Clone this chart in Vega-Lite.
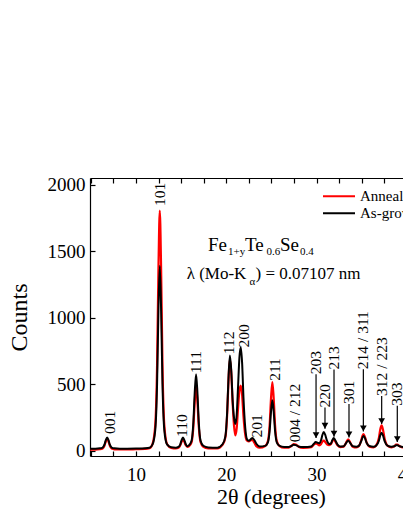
{
  "$schema": "https://vega.github.io/schema/vega-lite/v6.json",
  "width": 362,
  "height": 278,
  "autosize": "none",
  "padding": {"left": 90, "top": 178, "right": 0, "bottom": 66},
  "config": {
    "font": "Liberation Serif",
    "view": {"stroke": null},
    "axis": {"grid": false, "domainColor": "#000", "tickColor": "#000", "labelColor": "#000", "titleColor": "#000", "labelFont": "Liberation Serif", "titleFont": "Liberation Serif", "titleFontWeight": "normal", "domainWidth": 1.2, "tickWidth": 1.2, "labelOverlap": false}
  },
  "datasets": {
    "xrd": [
      {"t": 4.9, "a": 8, "g": 15}, {"t": 5.5, "a": 8, "g": 15}, {"t": 6.0, "a": 10.5, "g": 17.5}, {"t": 6.3, "a": 16, "g": 23.5},
      {"t": 6.5, "a": 37, "g": 45}, {"t": 6.65, "a": 69, "g": 79}, {"t": 6.8, "a": 90, "g": 100}, {"t": 6.95, "a": 69, "g": 79},
      {"t": 7.1, "a": 37, "g": 45}, {"t": 7.3, "a": 16, "g": 23.5}, {"t": 7.6, "a": 10.5, "g": 17.5}, {"t": 8.2, "a": 9, "g": 15},
      {"t": 9.0, "a": 9, "g": 15}, {"t": 10.0, "a": 11, "g": 16}, {"t": 11.0, "a": 13, "g": 18}, {"t": 11.5, "a": 18, "g": 22},
      {"t": 11.83, "a": 51, "g": 47}, {"t": 12.13, "a": 194, "g": 157}, {"t": 12.33, "a": 642, "g": 500}, {"t": 12.48, "a": 1358, "g": 1048},
      {"t": 12.63, "a": 1805, "g": 1390}, {"t": 12.78, "a": 1358, "g": 1048}, {"t": 12.93, "a": 642, "g": 500}, {"t": 13.13, "a": 194, "g": 157},
      {"t": 13.43, "a": 51, "g": 47}, {"t": 13.9, "a": 21, "g": 25}, {"t": 14.4, "a": 17, "g": 22}, {"t": 14.7, "a": 22, "g": 28},
      {"t": 14.9, "a": 40, "g": 48}, {"t": 15.05, "a": 67, "g": 80}, {"t": 15.2, "a": 85, "g": 100}, {"t": 15.35, "a": 67, "g": 80},
      {"t": 15.5, "a": 42, "g": 50}, {"t": 15.7, "a": 28, "g": 34}, {"t": 15.85, "a": 32, "g": 40}, {"t": 16.15, "a": 62, "g": 75},
      {"t": 16.35, "a": 178, "g": 214}, {"t": 16.5, "a": 364, "g": 436}, {"t": 16.65, "a": 490, "g": 575}, {"t": 16.8, "a": 370, "g": 436},
      {"t": 16.95, "a": 182, "g": 214}, {"t": 17.15, "a": 63, "g": 75}, {"t": 17.45, "a": 29, "g": 37}, {"t": 18.0, "a": 18, "g": 24},
      {"t": 19.0, "a": 17, "g": 22}, {"t": 19.6, "a": 45, "g": 50}, {"t": 19.9, "a": 100, "g": 110}, {"t": 20.1, "a": 280, "g": 300},
      {"t": 20.25, "a": 540, "g": 560}, {"t": 20.4, "a": 690, "g": 715}, {"t": 20.55, "a": 580, "g": 600}, {"t": 20.7, "a": 360, "g": 380},
      {"t": 20.85, "a": 190, "g": 250}, {"t": 21.0, "a": 115, "g": 200}, {"t": 21.15, "a": 170, "g": 270}, {"t": 21.3, "a": 320, "g": 480},
      {"t": 21.45, "a": 450, "g": 700}, {"t": 21.6, "a": 490, "g": 778}, {"t": 21.75, "a": 420, "g": 660}, {"t": 21.9, "a": 260, "g": 400},
      {"t": 22.1, "a": 120, "g": 170}, {"t": 22.3, "a": 75, "g": 85}, {"t": 22.5, "a": 70, "g": 75}, {"t": 22.7, "a": 78, "g": 85},
      {"t": 22.9, "a": 80, "g": 95}, {"t": 23.1, "a": 60, "g": 80}, {"t": 23.35, "a": 32, "g": 50}, {"t": 23.7, "a": 22, "g": 32},
      {"t": 24.3, "a": 35, "g": 36}, {"t": 24.6, "a": 70, "g": 61}, {"t": 24.8, "a": 193, "g": 149}, {"t": 24.95, "a": 391, "g": 291},
      {"t": 25.1, "a": 515, "g": 380}, {"t": 25.25, "a": 391, "g": 291}, {"t": 25.4, "a": 193, "g": 149}, {"t": 25.6, "a": 70, "g": 61},
      {"t": 25.9, "a": 35, "g": 36}, {"t": 26.4, "a": 22, "g": 28}, {"t": 26.9, "a": 23, "g": 28}, {"t": 27.2, "a": 35, "g": 35},
      {"t": 27.45, "a": 50, "g": 45}, {"t": 27.7, "a": 47, "g": 42}, {"t": 28.0, "a": 30, "g": 32}, {"t": 28.5, "a": 21, "g": 27},
      {"t": 29.0, "a": 22, "g": 28}, {"t": 29.4, "a": 26, "g": 32}, {"t": 29.7, "a": 45, "g": 52}, {"t": 29.9, "a": 55, "g": 65},
      {"t": 30.1, "a": 50, "g": 60}, {"t": 30.3, "a": 40, "g": 55}, {"t": 30.5, "a": 50, "g": 80}, {"t": 30.65, "a": 68, "g": 120},
      {"t": 30.8, "a": 75, "g": 140}, {"t": 30.95, "a": 66, "g": 120}, {"t": 31.15, "a": 48, "g": 75}, {"t": 31.4, "a": 42, "g": 50},
      {"t": 31.6, "a": 50, "g": 55}, {"t": 31.75, "a": 72, "g": 80}, {"t": 31.9, "a": 85, "g": 95}, {"t": 32.05, "a": 72, "g": 80},
      {"t": 32.3, "a": 42, "g": 48}, {"t": 32.6, "a": 27, "g": 32}, {"t": 33.0, "a": 30, "g": 34}, {"t": 33.25, "a": 58, "g": 55},
      {"t": 33.5, "a": 85, "g": 75}, {"t": 33.75, "a": 58, "g": 55}, {"t": 34.0, "a": 30, "g": 34}, {"t": 34.4, "a": 24, "g": 30},
      {"t": 34.7, "a": 35, "g": 38}, {"t": 34.95, "a": 80, "g": 72}, {"t": 35.1, "a": 115, "g": 102}, {"t": 35.2, "a": 125, "g": 110},
      {"t": 35.35, "a": 105, "g": 95}, {"t": 35.55, "a": 60, "g": 58}, {"t": 35.85, "a": 30, "g": 35}, {"t": 36.3, "a": 25, "g": 30},
      {"t": 36.6, "a": 40, "g": 38}, {"t": 36.9, "a": 95, "g": 75}, {"t": 37.05, "a": 160, "g": 115}, {"t": 37.2, "a": 190, "g": 135},
      {"t": 37.35, "a": 160, "g": 115}, {"t": 37.55, "a": 85, "g": 70}, {"t": 37.85, "a": 38, "g": 38}, {"t": 38.3, "a": 25, "g": 30},
      {"t": 38.6, "a": 32, "g": 33}, {"t": 38.8, "a": 45, "g": 40}, {"t": 38.95, "a": 45, "g": 40}, {"t": 39.2, "a": 33, "g": 33},
      {"t": 39.6, "a": 24, "g": 28}, {"t": 40.0, "a": 24, "g": 28}, {"t": 40.5, "a": 26, "g": 30}
    ],
    "arrows": [
      {"x": 29.94, "top": 575, "tip": 95}, {"x": 30.93, "top": 325, "tip": 165}, {"x": 31.93, "top": 610, "tip": 105},
      {"x": 33.59, "top": 350, "tip": 100}, {"x": 35.18, "top": 613, "tip": 145}, {"x": 37.21, "top": 412, "tip": 200},
      {"x": 38.94, "top": 337, "tip": 65}
    ],
    "peaks": [
      {"x": 7.12, "y": 125, "label": "001"}, {"x": 12.65, "y": 1840, "label": "101"}, {"x": 15.06, "y": 103, "label": "110"},
      {"x": 16.64, "y": 583, "label": "111"}, {"x": 20.33, "y": 725, "label": "112"}, {"x": 21.99, "y": 775, "label": "200"},
      {"x": 23.37, "y": 100, "label": "201"}, {"x": 25.39, "y": 525, "label": "211"}, {"x": 27.61, "y": 63, "label": "004 / 212"},
      {"x": 29.94, "y": 575, "label": "203"}, {"x": 30.93, "y": 325, "label": "220"}, {"x": 31.93, "y": 610, "label": "213"},
      {"x": 33.59, "y": 350, "label": "301"}, {"x": 35.18, "y": 613, "label": "214 / 311"}, {"x": 37.21, "y": 412, "label": "312 / 223"},
      {"x": 38.94, "y": 337, "label": "303"}
    ],
    "formula": [
      {"x": 17.97, "y": 1500, "s": "Fe"}, {"x": 22.07, "y": 1500, "s": "Te"}, {"x": 25.95, "y": 1500, "s": "Se"}
    ],
    "formulaSub": [
      {"x": 20.19, "y": 1468, "s": "1+y"}, {"x": 24.46, "y": 1468, "s": "0.6"}, {"x": 28.16, "y": 1468, "s": "0.4"}
    ],
    "lambda": [
      {"x": 15.61, "y": 1287, "s": "λ (Mo-K"}, {"x": 23.23, "y": 1287, "s": ") = 0.07107 nm"}
    ],
    "lambdaSub": [
      {"x": 22.57, "y": 1242, "s": "α"}
    ]
  },
  "layer": [
    {
      "data": {"name": "xrd"},
      "mark": {"type": "line", "interpolate": "monotone", "strokeWidth": 2.2},
      "encoding": {
        "x": {
          "field": "t", "type": "quantitative",
          "scale": {"domain": [4.9, 45], "nice": false, "zero": false},
          "axis": {
            "orient": "bottom",
            "values": [5, 7.5, 10, 12.5, 15, 17.5, 20, 22.5, 25, 27.5, 30, 32.5, 35, 37.5, 40, 42.5, 45],
            "format": "d",
            "labelExpr": "datum.value % 10 === 0 ? datum.label : ''",
            "tickSize": -5, "labelPadding": 14, "labelFontSize": 19, "labelFlush": false,
            "labelFont": "Liberation Serif", "titleFont": "Liberation Serif",
            "title": "2θ  (degrees)", "titleFontSize": 22, "titlePadding": 2
          }
        },
        "y": {
          "field": "a", "type": "quantitative",
          "scale": {"domain": [-40, 2050], "nice": false, "zero": false},
          "axis": {
            "values": [0, 250, 500, 750, 1000, 1250, 1500, 1750, 2000],
            "format": "d",
            "labelExpr": "datum.value % 500 === 0 ? datum.label : ''",
            "tickSize": -5, "labelPadding": 10, "labelFontSize": 19,
            "labelFont": "Liberation Serif", "titleFont": "Liberation Serif",
            "title": "Counts", "titleFontSize": 24, "titlePadding": 16
          }
        },
        "color": {
          "datum": "Annealed",
          "scale": {"domain": ["Annealed", "As-grown"], "range": ["#ff0000", "#000000"]},
          "legend": {
            "title": null, "orient": "none", "legendX": 232, "legendY": 10,
            "symbolType": "stroke", "symbolSize": 1024, "symbolStrokeWidth": 2,
            "labelFont": "Liberation Serif", "labelFontSize": 15, "labelColor": "#000",
            "clipHeight": 16.6, "rowPadding": 0, "padding": 0, "labelOffset": 4, "labelLimit": 0
          }
        }
      }
    },
    {
      "data": {"name": "xrd"},
      "mark": {"type": "line", "interpolate": "monotone", "strokeWidth": 2},
      "encoding": {
        "x": {"field": "t", "type": "quantitative", "axis": null},
        "y": {"field": "g", "type": "quantitative"},
        "color": {"datum": "As-grown"}
      }
    },
    {
      "data": {"name": "arrows"},
      "mark": {"type": "rule", "strokeWidth": 1.2, "color": "#000"},
      "encoding": {
        "x": {"field": "x", "type": "quantitative", "axis": null},
        "y": {"field": "top", "type": "quantitative"},
        "y2": {"field": "tip"}
      }
    },
    {
      "data": {"name": "arrows"},
      "mark": {"type": "point", "shape": "triangle-down", "filled": true, "color": "#000", "size": 45, "yOffset": -3, "opacity": 1},
      "encoding": {
        "x": {"field": "x", "type": "quantitative", "axis": null},
        "y": {"field": "tip", "type": "quantitative"}
      }
    },
    {
      "data": {"name": "peaks"},
      "mark": {"type": "text", "angle": 270, "align": "left", "baseline": "middle", "fontSize": 15.5, "dx": 0, "font": "Liberation Serif", "color": "#000"},
      "encoding": {
        "x": {
          "field": "x", "type": "quantitative",
          "axis": {
            "orient": "top", "labels": false, "title": null,
            "values": [5, 7.5, 10, 12.5, 15, 17.5, 20, 22.5, 25, 27.5, 30, 32.5, 35, 37.5, 40, 42.5, 45],
            "tickSize": -5
          }
        },
        "y": {"field": "y", "type": "quantitative"},
        "text": {"field": "label"}
      }
    },
    {
      "data": {"name": "formula"},
      "mark": {"type": "text", "align": "left", "baseline": "alphabetic", "fontSize": 19, "font": "Liberation Serif", "color": "#000"},
      "encoding": {
        "x": {"field": "x", "type": "quantitative", "axis": null},
        "y": {"field": "y", "type": "quantitative"},
        "text": {"field": "s"}
      }
    },
    {
      "data": {"name": "formulaSub"},
      "mark": {"type": "text", "align": "left", "baseline": "alphabetic", "fontSize": 11, "font": "Liberation Serif", "color": "#000"},
      "encoding": {
        "x": {"field": "x", "type": "quantitative", "axis": null},
        "y": {"field": "y", "type": "quantitative"},
        "text": {"field": "s"}
      }
    },
    {
      "data": {"name": "lambda"},
      "mark": {"type": "text", "align": "left", "baseline": "alphabetic", "fontSize": 17, "font": "Liberation Serif", "color": "#000"},
      "encoding": {
        "x": {"field": "x", "type": "quantitative", "axis": null},
        "y": {"field": "y", "type": "quantitative"},
        "text": {"field": "s"}
      }
    },
    {
      "data": {"name": "lambdaSub"},
      "mark": {"type": "text", "align": "left", "baseline": "alphabetic", "fontSize": 11, "font": "Liberation Serif", "color": "#000"},
      "encoding": {
        "x": {"field": "x", "type": "quantitative", "axis": null},
        "y": {"field": "y", "type": "quantitative"},
        "text": {"field": "s"}
      }
    }
  ]
}
